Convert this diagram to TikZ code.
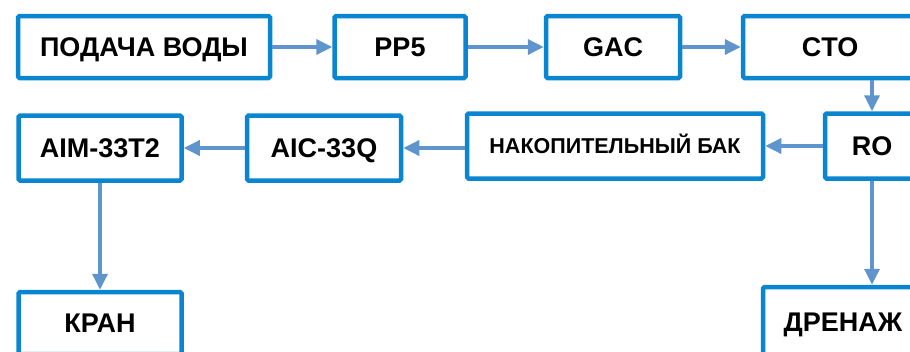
\documentclass[tikz,border=0pt]{standalone}
\usepackage{fontspec}
\setmainfont{Liberation Sans}
\usetikzlibrary{positioning, arrows.meta}
\definecolor{boxblue}{HTML}{0A85CF}
\definecolor{flowblue}{HTML}{5F94CC}

\begin{document}
\begin{tikzpicture}[
    x=1pt, y=-1pt,
    unit/.style={
        rectangle,
        draw=boxblue,
        line width=4.5pt,
        rounded corners=1.5pt,
        fill=white,
        font=\fontsize{27}{32}\selectfont\bfseries,
        text height=19.4pt, text depth=0pt,
        inner sep=0pt,
        minimum height=62pt,
    },
    flow/.style={-{Triangle[length=16pt,width=15pt]}, line width=3.5pt, color=flowblue}
]
\useasboundingbox (0,0) rectangle (910,351);
\clip (0,0) rectangle (910,351);

% top row
\node[unit, minimum width=252pt] (Feed) at (144,47) {ПОДАЧА ВОДЫ};
\node[unit, minimum width=131pt] (PP) at (400,47) {PP5};
\node[unit, minimum width=134pt] (GAC) at (613,47) {GAC};
\node[unit, minimum width=174pt] (CTO) at (830,47) {CTO};

% middle row
\node[unit, minimum width=94pt, minimum height=65pt] (RO) at (872,146) {RO};
\node[unit, minimum width=296pt, minimum height=65pt, text height=15.5pt,
      font=\fontsize{21.5}{26}\selectfont\bfseries] (Tank) at (615,146) {НАКОПИТЕЛЬНЫЙ БАК};
\node[unit, minimum width=154pt, minimum height=65pt] (AIC) at (324,148) {AIC-33Q};
\node[unit, minimum width=163pt, minimum height=65pt] (AIM) at (100,148) {AIM-33T2};

% bottom row
\node[unit, minimum width=163pt] (Tap) at (100,323) {КРАН};
\node[unit, minimum width=160pt, minimum height=70pt] (Drain) at (843,322) {ДРЕНАЖ};

\draw[flow] (Feed) -- (PP);
\draw[flow] (PP) -- (GAC);
\draw[flow] (GAC) -- (CTO);
\draw[flow] (CTO.south -| RO.north) -- (RO.north);
\draw[flow] (RO) -- (Tank);
\draw[flow] (Tank.west |- AIC) -- (AIC);
\draw[flow] (AIC) -- (AIM);
\draw[flow] (AIM) -- (Tap);
\draw[flow] (RO.south) -- (RO.south |- Drain.north);
\end{tikzpicture}
\end{document}
